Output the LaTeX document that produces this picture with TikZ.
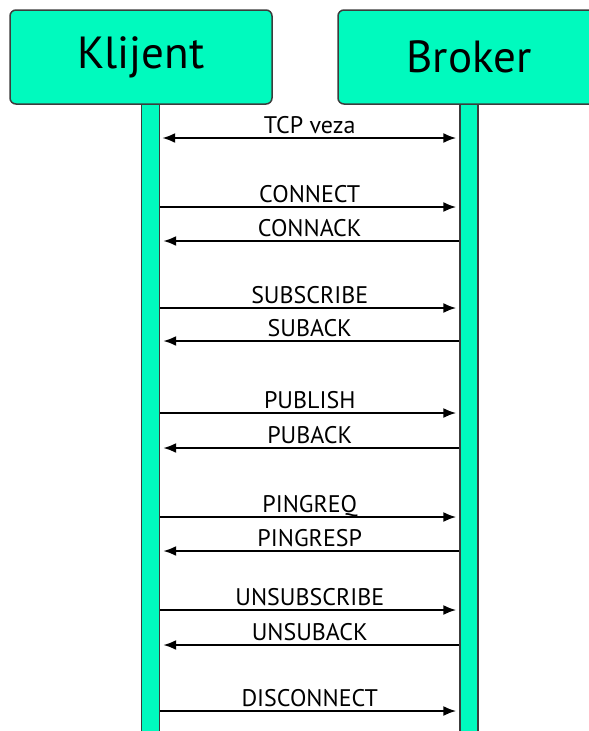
\documentclass[tikz,border=0pt]{standalone}
\usepackage{fontspec}
\setmainfont{PT Sans}
\usepackage{xcolor}
\usetikzlibrary{positioning,calc,arrows.meta}
\definecolor{mint}{RGB}{0,250,190}
\definecolor{edge}{RGB}{60,60,60}

\begin{document}
\begin{tikzpicture}[x=1pt,y=-1pt,>={Latex[length=13pt,width=10pt]},
			head node/.style={draw=edge, line width=1.5pt, fill=mint, rounded corners=6pt,
				minimum width=262pt, minimum height=94pt, inner sep=0pt,
				font=\fontsize{45}{50}\selectfont},
			life node/.style={draw=edge, line width=1.2pt, fill=mint, anchor=north,
				minimum width=18pt, minimum height=650pt, inner sep=0pt},
			msg/.style={->, line width=2.4pt, shorten >=3pt},
			lbl/.style={midway, anchor=base, yshift=5pt, inner sep=0pt,
				font=\fontsize{24}{26}\selectfont}]
			
			\clip (0,0) rectangle (589,731);
			
			\node[life node] (3) at (150.5,104) {};
			\node[life node] (4) at (469,104) {};
			
			\node[head node] (1) at (141,57)  {Klijent};
			\node[head node] (2) at (469,57)  {Broker};
			
			\draw[msg, <->, shorten <=2pt] (3.east |- 0,138) -- (4.west |- 0,138) node[lbl] {TCP veza};
			
			\draw[msg] (3.east |- 0,207) -- (4.west |- 0,207) node[lbl] {CONNECT};
			\draw[msg] (4.west |- 0,241) -- (3.east |- 0,241) node[lbl] {CONNACK};
			
			\draw[msg] (3.east |- 0,308) -- (4.west |- 0,308) node[lbl] {SUBSCRIBE};
			\draw[msg] (4.west |- 0,341) -- (3.east |- 0,341) node[lbl] {SUBACK};
			
			\draw[msg] (3.east |- 0,413) -- (4.west |- 0,413) node[lbl] {PUBLISH};
			\draw[msg] (4.west |- 0,448) -- (3.east |- 0,448) node[lbl] {PUBACK};
			
			\draw[msg] (3.east |- 0,517) -- (4.west |- 0,517) node[lbl] {PINGREQ};
			\draw[msg] (4.west |- 0,551) -- (3.east |- 0,551) node[lbl] {PINGRESP};
			
			\draw[msg] (3.east |- 0,610) -- (4.west |- 0,610) node[lbl] {UNSUBSCRIBE};
			\draw[msg] (4.west |- 0,645) -- (3.east |- 0,645) node[lbl] {UNSUBACK};
			
			\draw[msg] (3.east |- 0,711) -- (4.west |- 0,711) node[lbl] {DISCONNECT};
			
		\end{tikzpicture}
\end{document}
